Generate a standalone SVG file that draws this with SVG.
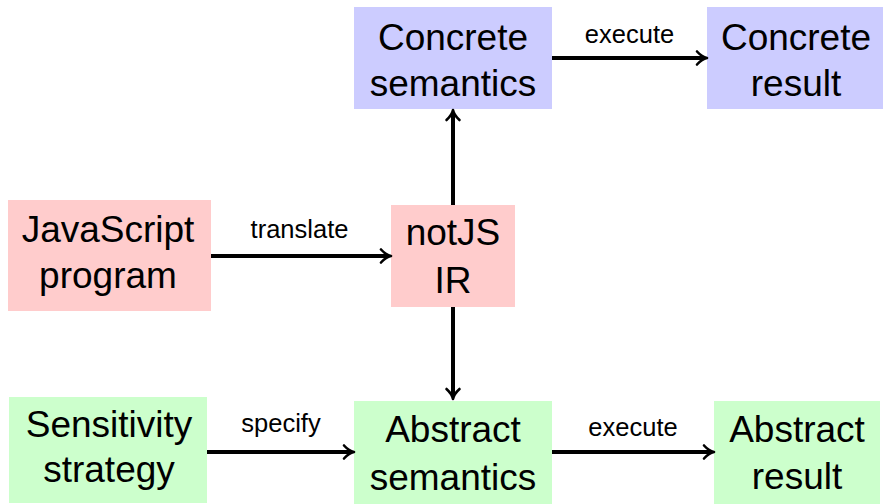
<svg xmlns="http://www.w3.org/2000/svg" width="886" height="504" viewBox="0 0 886 504">
  <style>
    .box text { font-family: "Liberation Sans", Arial, Helvetica, sans-serif; font-size: 37px; fill: #000; text-anchor: middle; }
    .conc { fill: #ccccff; }
    .src { fill: #ffcccc; }
    .abs { fill: #ccffcc; }
    .edge { stroke: #000; stroke-width: 4; fill: none; marker-end: url(#arr); }
    .lbl { font-family: "Liberation Sans", Arial, Helvetica, sans-serif; font-size: 25.5px; fill: #000; text-anchor: middle; }
  </style>
  <defs>
    <marker id="arr" markerUnits="userSpaceOnUse" markerWidth="20" markerHeight="20" refX="10" refY="10" orient="auto" overflow="visible">
      <path d="M3,3.5 Q8,9 13,10 Q8,11 3,16.5" fill="none" stroke="#000" stroke-width="2.6" stroke-linecap="round" stroke-linejoin="round"/>
    </marker>
  </defs>

  <rect width="886" height="504" fill="#ffffff"/>

  <g id="concrete-semantics" class="box">
    <rect class="conc" x="354" y="7" width="198" height="102"/>
    <text x="453" y="49.5">Concrete</text>
    <text x="453" y="95.5">semantics</text>
  </g>
  <g id="concrete-result" class="box">
    <rect class="conc" x="707" y="7" width="176" height="102"/>
    <text x="796" y="49.5">Concrete</text>
    <text x="796" y="95.5">result</text>
  </g>
  <g id="javascript-program" class="box">
    <rect class="src" x="8" y="200" width="203" height="111"/>
    <text x="108" y="242">JavaScript</text>
    <text x="108" y="287.5">program</text>
  </g>
  <g id="notjs-ir" class="box">
    <rect class="src" x="391" y="205" width="124" height="102"/>
    <text x="453" y="245">notJS</text>
    <text x="453" y="293">IR</text>
  </g>
  <g id="sensitivity-strategy" class="box">
    <rect class="abs" x="9" y="397" width="198" height="106"/>
    <text x="109" y="437">Sensitivity</text>
    <text x="109" y="482">strategy</text>
  </g>
  <g id="abstract-semantics" class="box">
    <rect class="abs" x="354" y="401" width="198" height="103"/>
    <text x="453" y="442">Abstract</text>
    <text x="453" y="489.5">semantics</text>
  </g>
  <g id="abstract-result" class="box">
    <rect class="abs" x="714" y="401" width="166" height="103"/>
    <text x="797" y="442">Abstract</text>
    <text x="797" y="489">result</text>
  </g>

  <g id="connectors">
    <line class="edge" x1="211" y1="256" x2="388" y2="256"/>
    <line class="edge" x1="453" y1="205" x2="453" y2="113"/>
    <line class="edge" x1="453" y1="307" x2="453" y2="396"/>
    <line class="edge" x1="552" y1="58" x2="704" y2="58"/>
    <line class="edge" x1="207" y1="452" x2="351" y2="452"/>
    <line class="edge" x1="552" y1="452" x2="711" y2="452"/>
    <text class="lbl" x="299.5" y="238">translate</text>
    <text class="lbl" x="629.5" y="43">execute</text>
    <text class="lbl" x="281" y="432">specify</text>
    <text class="lbl" x="633" y="436">execute</text>
  </g>
</svg>
